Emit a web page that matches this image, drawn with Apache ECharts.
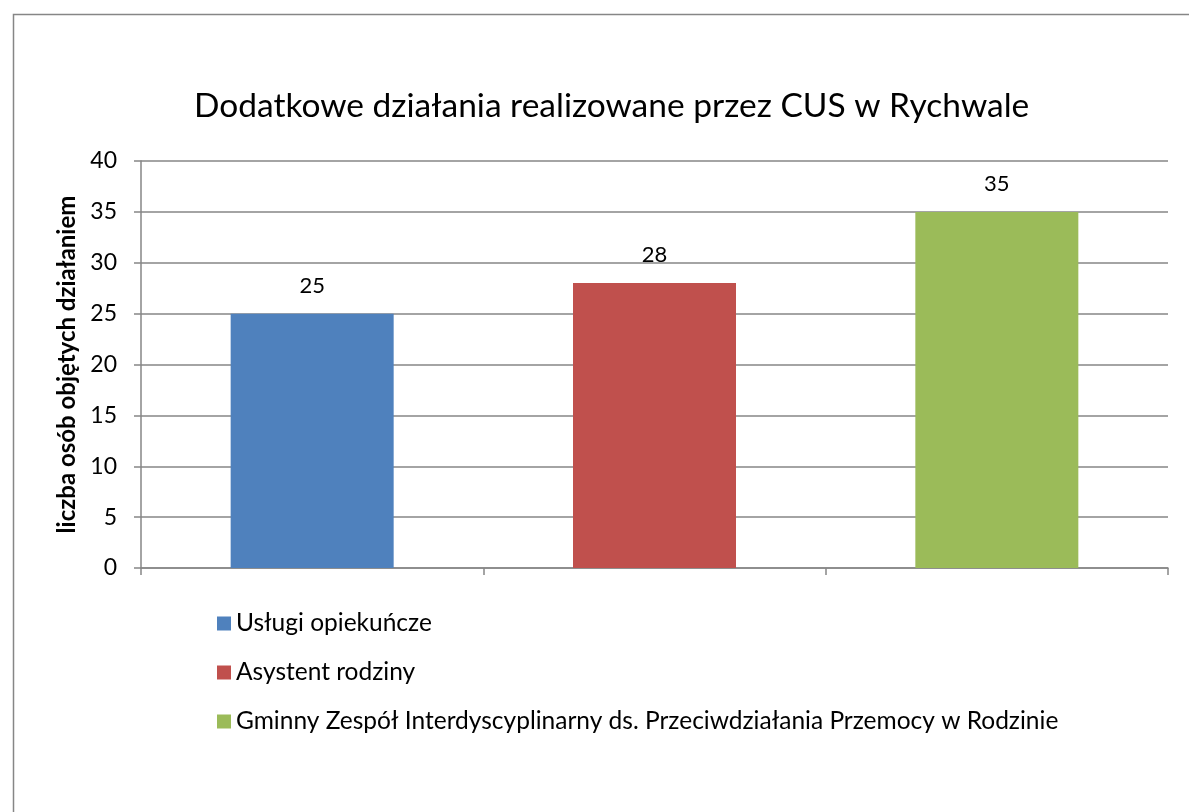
<!DOCTYPE html>
<html>
<head>
<meta charset="utf-8">
<script src="https://cdn.jsdelivr.net/npm/echarts@6/dist/echarts.min.js"></script>
<style>
html,body{margin:0;padding:0;background:#fff;}
#chart{width:1189px;height:812px;}
</style>
</head>
<body>
<div id="chart"></div>
<script>
const titleText = 'Dodatkowe działania realizowane przez CUS w Rychwale';
const yAxisName = 'liczba osób objętych działaniem';
const categories = ['', '', ''];
const seriesNames = ['Usługi opiekuńcze', 'Asystent rodziny', 'Gminny Zespół Interdyscyplinarny ds. Przeciwdziałania Przemocy w Rodzinie'];
const seriesValues = [25, 28, 35];
const seriesColors = ['#4f81bd', '#c0504d', '#9bbb59'];
const yTicks = [0, 5, 10, 15, 20, 25, 30, 35, 40];

const FONT = 'Lato, "Open Sans", sans-serif';
const chart = echarts.init(document.getElementById('chart'));

const series = seriesNames.map((name, i) => ({
  name: name,
  type: 'bar',
  barWidth: 163,
  barGap: '-100%',
  itemStyle: { color: seriesColors[i] },
  label: { show: true, position: 'top', distance: 17, color: '#000', fontSize: 22, fontFamily: FONT },
  data: categories.map((c, j) => (j === i ? seriesValues[i] : null))
}));

chart.setOption({
  animation: false,
  backgroundColor: '#fff',
  graphic: [{
    type: 'rect', left: 11, top: 12, shape: { width: 1300, height: 900 },
    style: { fill: 'none', stroke: '#868686', lineWidth: 1.5 }, silent: true, z: -1
  }],
  title: {
    text: titleText, left: 189, top: 84,
    textStyle: { fontFamily: FONT, fontSize: 33.5, fontWeight: 'normal', color: '#000' }
  },
  legend: {
    orient: 'vertical', left: 212, top: 606, itemGap: 24,
    itemWidth: 14, itemHeight: 14, icon: 'rect',
    textStyle: { fontFamily: FONT, fontSize: 24.5, color: '#000' },
    data: seriesNames
  },
  grid: { left: 141, right: 21, top: 161, height: 407, containLabel: false },
  xAxis: {
    type: 'category', data: categories,
    axisLine: { lineStyle: { color: '#868686', width: 1.5 } },
    axisTick: { show: true, length: 7, lineStyle: { color: '#868686', width: 1.5 } },
    axisLabel: { show: false }
  },
  yAxis: {
    type: 'value', min: 0, max: 40, interval: 5,
    name: yAxisName, nameLocation: 'middle', nameGap: 56, nameRotate: 90,
    nameTextStyle: { fontFamily: FONT, fontSize: 24, fontWeight: 'bold', color: '#000' },
    axisLine: { show: true, lineStyle: { color: '#868686', width: 1.5 } },
    axisTick: { show: true, length: 7, lineStyle: { color: '#868686', width: 1.5 } },
    axisLabel: { fontFamily: FONT, fontSize: 23, color: '#000', margin: 24,
      formatter: v => (yTicks.includes(v) ? String(v) : '') },
    splitLine: { lineStyle: { color: '#868686', width: 1.5 } }
  },
  series: series
});
</script>
</body>
</html>
